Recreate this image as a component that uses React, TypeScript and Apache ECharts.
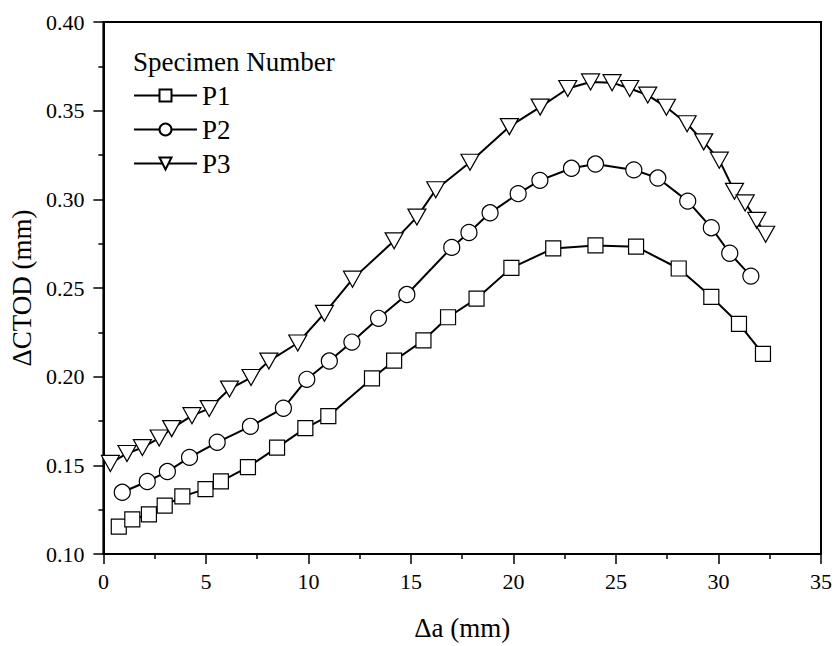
import React, { useEffect, useRef } from "react";
import * as echarts from "echarts";

const p1X = [0.75, 1.41, 2.22, 2.99, 3.85, 4.98, 5.73, 7.05, 8.47, 9.85, 10.97, 13.1, 14.18, 15.61, 16.81, 18.2, 19.9, 21.94, 24.0, 25.98, 28.06, 29.65, 31.0, 32.17];
const p1Y = [0.1154, 0.1195, 0.1223, 0.1273, 0.1325, 0.1366, 0.141, 0.149, 0.16, 0.171, 0.1777, 0.199, 0.209, 0.2205, 0.2335, 0.244, 0.2614, 0.2723, 0.274, 0.2733, 0.261, 0.245, 0.2298, 0.2128];

const p2X = [0.92, 2.14, 3.12, 4.2, 5.55, 7.17, 8.78, 9.92, 11.02, 12.12, 13.42, 14.8, 16.99, 17.83, 18.86, 20.23, 21.29, 22.83, 24.0, 25.87, 27.04, 28.5, 29.65, 30.55, 31.58];
const p2Y = [0.1348, 0.1409, 0.1465, 0.1545, 0.163, 0.172, 0.1822, 0.1985, 0.2088, 0.2195, 0.2329, 0.2463, 0.2729, 0.2813, 0.2924, 0.3032, 0.3107, 0.3175, 0.3199, 0.3166, 0.312, 0.299, 0.284, 0.2696, 0.2567];

const p3X = [0.34, 1.15, 1.9, 2.72, 3.33, 4.32, 5.16, 6.15, 7.2, 8.07, 9.48, 10.78, 12.15, 14.18, 15.29, 16.21, 17.88, 19.8, 21.3, 22.65, 23.76, 24.81, 25.67, 26.55, 27.46, 28.47, 29.28, 30.04, 30.78, 31.3, 31.87, 32.3];
const p3Y = [0.1511, 0.1567, 0.16, 0.1654, 0.1707, 0.178, 0.182, 0.193, 0.1995, 0.2088, 0.219, 0.2357, 0.255, 0.2766, 0.29, 0.3054, 0.3209, 0.341, 0.352, 0.3625, 0.3662, 0.3658, 0.3625, 0.3588, 0.3519, 0.3426, 0.3324, 0.3221, 0.3045, 0.298, 0.2881, 0.2803];

const seriesNames = ["P1", "P2", "P3"];
const legendTitle = "Specimen Number";
const xTitle = "\u0394a (mm)";
const yTitle = "\u0394CTOD (mm)";

const FONT = "Liberation Serif";

function zip(xs: number[], ys: number[]) {
  return xs.map((x, i) => [x, ys[i]]);
}

export default function App() {
  const ref = useRef<HTMLDivElement>(null);
  useEffect(() => {
    document.body.style.margin = "0";
    const chart = echarts.init(ref.current!, undefined, { renderer: "svg" });
    const common = {
      type: "line",
      showAllSymbol: true,
      lineStyle: { color: "#000", width: 2 },
      itemStyle: { color: "#fff", borderColor: "#000", borderWidth: 1.2 },
      emphasis: { disabled: true },
    };
    chart.setOption({
      animation: false,
      textStyle: { fontFamily: FONT },
      grid: {
        left: 102,
        right: 13,
        top: 22,
        bottom: 86,
        show: true,
        borderColor: "#000",
        borderWidth: 2,
        backgroundColor: "transparent",
      },
      title: {
        text: legendTitle,
        left: 133,
        top: 48,
        textStyle: { fontFamily: FONT, fontSize: 27, fontWeight: "normal", color: "#000" },
        padding: 0,
      },
      legend: {
        orient: "vertical",
        left: 133,
        top: 82,
        itemWidth: 63,
        itemHeight: 15,
        itemGap: 7,
        padding: 0,
        data: seriesNames,
        textStyle: { fontFamily: FONT, fontSize: 27, color: "#000" },
      },
      xAxis: {
        type: "value",
        min: 0,
        max: 35,
        interval: 5,
        name: xTitle,
        nameLocation: "middle",
        nameGap: 60,
        nameTextStyle: { fontFamily: FONT, fontSize: 27, color: "#000" },
        axisLine: { show: true, lineStyle: { color: "#000", width: 2 } },
        axisTick: { show: true, inside: false, length: 10, lineStyle: { color: "#000", width: 1.5 } },
        minorTick: { show: true, splitNumber: 2, length: 5, lineStyle: { color: "#000", width: 1.5 } },
        axisLabel: { fontFamily: FONT, fontSize: 22, color: "#000", margin: 16 },
        splitLine: { show: false },
      },
      yAxis: {
        type: "value",
        min: 0.1,
        max: 0.4,
        interval: 0.05,
        name: yTitle,
        nameLocation: "middle",
        nameGap: 58,
        nameTextStyle: { fontFamily: FONT, fontSize: 27, color: "#000" },
        axisLine: { show: true, lineStyle: { color: "#000", width: 2 } },
        axisTick: { show: true, inside: false, length: 10, lineStyle: { color: "#000", width: 1.5 } },
        minorTick: { show: true, splitNumber: 2, length: 5, lineStyle: { color: "#000", width: 1.5 } },
        axisLabel: {
          fontFamily: FONT,
          fontSize: 22,
          color: "#000",
          margin: 19,
          formatter: (v: number) => v.toFixed(2),
        },
        splitLine: { show: false },
      },
      series: [
        { ...common, name: seriesNames[0], symbol: "rect", symbolSize: 15, data: zip(p1X, p1Y) },
        { ...common, name: seriesNames[1], symbol: "circle", symbolSize: 16, data: zip(p2X, p2Y) },
        { ...common, name: seriesNames[2], symbol: "triangle", symbolRotate: 180, symbolSize: [18, 16], data: zip(p3X, p3Y) },
      ],
    });
    return () => chart.dispose();
  }, []);
  return <div ref={ref} style={{ width: 835, height: 646 }} />;
}
